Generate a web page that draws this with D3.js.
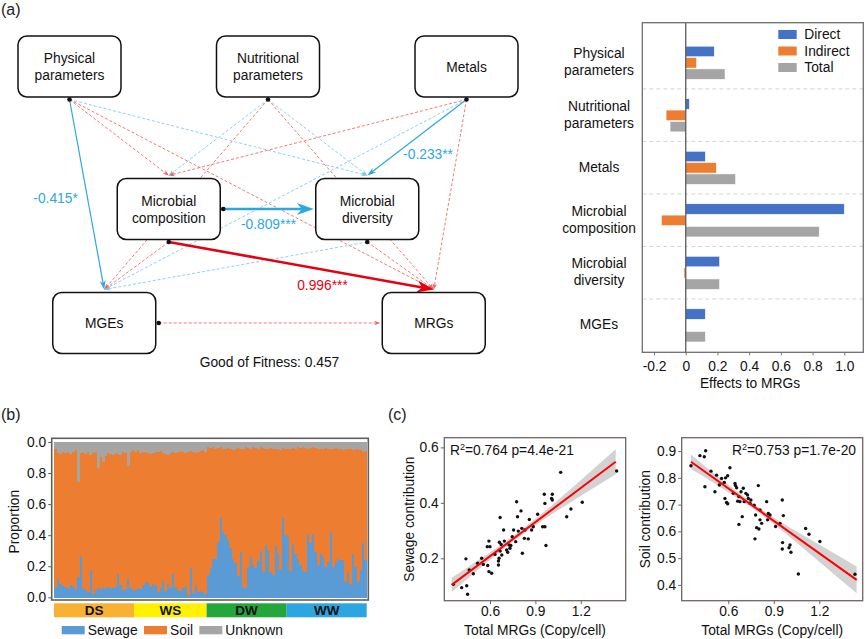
<!DOCTYPE html>
<html>
<head>
<meta charset="utf-8">
<script src="https://cdn.jsdelivr.net/npm/d3@7"></script>
<style>
  body { margin: 0; background: #fff; }
  svg { display: block; }
</style>
</head>
<body>
<svg id="fig" width="865" height="639"></svg>
<script>
// ---------- (a) path model ----------
const pathNodes = ["Physical parameters", "Nutritional parameters", "Metals",
  "Microbial composition", "Microbial diversity", "MGEs", "MRGs"];
// sign: +1 positive (red), -1 negative (blue); coef null = not significant (dashed)
const pathEdges = [
  { from: "Physical parameters", to: "Microbial composition", sign: 1, coef: null },
  { from: "Physical parameters", to: "Microbial diversity", sign: -1, coef: null },
  { from: "Physical parameters", to: "MRGs", sign: 1, coef: null },
  { from: "Nutritional parameters", to: "Microbial composition", sign: -1, coef: null },
  { from: "Nutritional parameters", to: "Microbial diversity", sign: -1, coef: null },
  { from: "Nutritional parameters", to: "MGEs", sign: 1, coef: null },
  { from: "Nutritional parameters", to: "MRGs", sign: 1, coef: null },
  { from: "Metals", to: "Microbial composition", sign: 1, coef: null },
  { from: "Metals", to: "MGEs", sign: -1, coef: null },
  { from: "Metals", to: "MRGs", sign: 1, coef: null },
  { from: "Microbial composition", to: "MGEs", sign: 1, coef: null },
  { from: "Microbial diversity", to: "MGEs", sign: -1, coef: null },
  { from: "Microbial diversity", to: "MRGs", sign: 1, coef: null },
  { from: "MGEs", to: "MRGs", sign: 1, coef: null },
  { from: "Physical parameters", to: "MGEs", sign: -1, coef: -0.415, stars: "*" },
  { from: "Metals", to: "Microbial diversity", sign: -1, coef: -0.233, stars: "**" },
  { from: "Microbial composition", to: "Microbial diversity", sign: -1, coef: -0.809, stars: "***" },
  { from: "Microbial composition", to: "MRGs", sign: 1, coef: 0.996, stars: "***" }
];
const goodFit = 0.457;

// ---------- (a) effects to MRGs ----------
const effectVars = ["Physical parameters", "Nutritional parameters", "Metals",
  "Microbial composition", "Microbial diversity", "MGEs"];
const effectTypes = ["Direct", "Indirect", "Total"];
const directEffect = [0.18, 0.023, 0.124, 1.0, 0.214, 0.124];
const indirectEffect = [0.069, -0.124, 0.193, -0.154, -0.011, 0];
const totalEffect = [0.248, -0.099, 0.315, 0.842, 0.214, 0.124];
const effectTicks = [-0.2, 0, 0.2, 0.4, 0.6, 0.8, 1.0];

// ---------- (b) source proportions ----------
const seasons = ["DS", "WS", "DW", "WW"];
const seasonSize = [32, 29, 32, 32];
const sewageShare = [
  // DS
  0.06, 0.12, 0.09, 0.075, 0.07, 0.06, 0.08, 0.075, 0.055, 0.135, 0.27, 0.06, 0.05, 0.035, 0.175, 0.025,
  0.05, 0.06, 0.055, 0.065, 0.06, 0.07, 0.06, 0.065, 0.07, 0.155, 0.08, 0.05, 0.055, 0.12, 0.06, 0.05,
  // WS
  0.05, 0.06, 0.055, 0.08, 0.1, 0.095, 0.07, 0.085, 0.08, 0.035, 0.06, 0.11, 0.04, 0.09, 0.065,
  0.15, 0.07, 0.05, 0.04, 0.065, 0.07, 0.01, 0.19, 0.03, 0.08, 0.035, 0.045, 0.035, 0.02,
  // DW
  0.145, 0.19, 0.25, 0.25, 0.36, 0.51, 0.42, 0.40, 0.37, 0.32, 0.25, 0.22, 0.14, 0.295, 0.07, 0.06,
  0.20, 0.26, 0.21, 0.19, 0.235, 0.30, 0.165, 0.34, 0.305, 0.165, 0.145, 0.335, 0.29, 0.175, 0.51, 0.40,
  // WW
  0.39, 0.17, 0.34, 0.28, 0.25, 0.21, 0.17, 0.165, 0.40, 0.35, 0.41, 0.295, 0.21, 0.28, 0.26, 0.20,
  0.23, 0.42, 0.20, 0.23, 0.25, 0.24, 0.24, 0.10, 0.165, 0.09, 0.28, 0.20, 0.10, 0.175, 0.35, 0.24
];
const unknownShare = [
  // DS
  0.045, 0.07, 0.075, 0.065, 0.07, 0.06, 0.075, 0.065, 0.05, 0.255, 0.07, 0.065, 0.075, 0.06, 0.08, 0.07,
  0.065, 0.165, 0.095, 0.13, 0.085, 0.07, 0.075, 0.08, 0.07, 0.075, 0.08, 0.065, 0.07, 0.15, 0.065, 0.05,
  // WS
  0.06, 0.05, 0.07, 0.065, 0.06, 0.07, 0.075, 0.07, 0.065, 0.06, 0.055, 0.07, 0.075, 0.08, 0.07,
  0.065, 0.07, 0.06, 0.055, 0.065, 0.07, 0.06, 0.055, 0.065, 0.07, 0.06, 0.055, 0.05, 0.06,
  // DW
  0.03, 0.035, 0.03, 0.04, 0.035, 0.03, 0.045, 0.04, 0.035, 0.04, 0.05, 0.04, 0.035, 0.045, 0.04, 0.03,
  0.035, 0.04, 0.03, 0.035, 0.04, 0.03, 0.035, 0.04, 0.045, 0.035, 0.04, 0.045, 0.04, 0.05, 0.035, 0.04,
  // WW
  0.045, 0.04, 0.035, 0.04, 0.03, 0.035, 0.03, 0.035, 0.04, 0.035, 0.03, 0.035, 0.04, 0.045, 0.04, 0.035,
  0.04, 0.045, 0.04, 0.035, 0.04, 0.045, 0.05, 0.045, 0.04, 0.045, 0.05, 0.04, 0.045, 0.05, 0.06, 0.055
];
const propTicks = [0, 0.2, 0.4, 0.6, 0.8, 1.0];
const propTickLabels = ["0.0", "0.2", "0.4", "0.6", "0.8", "0.0"];

// ---------- (c) regressions ----------
const sewageMRG = [0.358, 0.413, 0.446, 0.452, 0.441, 0.463, 0.49, 0.518, 0.545, 0.556, 0.582, 0.593, 0.585,
  0.593, 0.611, 0.6, 0.633, 0.656, 0.667, 0.662, 0.674, 0.667, 0.678, 0.69, 0.695, 0.66, 0.656, 0.71, 0.717,
  0.726, 0.732, 0.738, 0.747, 0.756, 0.776, 0.782, 0.77, 0.787, 0.805, 0.81, 0.814, 0.827, 0.831, 0.853,
  0.86, 0.875, 0.886, 0.915, 0.948, 0.959, 0.963, 0.97, 0.963, 1.007, 1.012, 1.012, 1.067, 1.107, 1.135,
  1.21, 1.437];
const sewageContrib = [0.106, 0.094, 0.101, 0.07, 0.198, 0.158, 0.144, 0.182, 0.2, 0.178, 0.242, 0.262, 0.174,
  0.152, 0.146, 0.242, 0.214, 0.176, 0.347, 0.258, 0.25, 0.226, 0.212, 0.302, 0.262, 0.2, 0.19, 0.23, 0.222,
  0.248, 0.236, 0.246, 0.278, 0.302, 0.404, 0.35, 0.26, 0.298, 0.371, 0.308, 0.218, 0.272, 0.302, 0.27,
  0.34, 0.302, 0.314, 0.359, 0.314, 0.431, 0.398, 0.246, 0.314, 0.416, 0.431, 0.41, 0.51, 0.35, 0.378,
  0.402, 0.515];
const soilMRG = [0.354, 0.413, 0.451, 0.442, 0.446, 0.486, 0.512, 0.523, 0.541, 0.556, 0.574, 0.582, 0.596,
  0.611, 0.578, 0.589, 0.596, 0.633, 0.644, 0.655, 0.648, 0.662, 0.67, 0.677, 0.684, 0.699, 0.692, 0.67,
  0.705, 0.716, 0.727, 0.732, 0.743, 0.749, 0.771, 0.78, 0.787, 0.776, 0.802, 0.798, 0.809, 0.809, 0.82,
  0.853, 0.859, 0.864, 0.875, 0.912, 0.941, 0.956, 0.963, 0.958, 0.956, 1.007, 1.013, 1.0, 1.062, 1.11,
  1.132, 1.204, 1.435];
const soilContrib = [0.845, 0.883, 0.901, 0.879, 0.767, 0.825, 0.748, 0.81, 0.773, 0.798, 0.783, 0.8, 0.808,
  0.838, 0.723, 0.708, 0.703, 0.742, 0.779, 0.763, 0.771, 0.713, 0.73, 0.711, 0.748, 0.761, 0.655, 0.626,
  0.711, 0.742, 0.736, 0.723, 0.705, 0.717, 0.698, 0.661, 0.614, 0.572, 0.609, 0.771, 0.68, 0.643, 0.63,
  0.711, 0.643, 0.667, 0.661, 0.618, 0.63, 0.717, 0.659, 0.558, 0.534, 0.549, 0.522, 0.539, 0.441, 0.611,
  0.589, 0.562, 0.44];
// fitted line ends and confidence band half-widths
const sewageFitX = [0.347, 1.431], sewageFitY = [0.104, 0.548];
const sewageBandX = [0.347, 0.5, 0.65, 0.78, 0.95, 1.1, 1.25, 1.431];
const sewageBandHalf = [0.026, 0.018, 0.012, 0.01, 0.013, 0.022, 0.032, 0.045];
const soilFitX = [0.354, 1.446], soilFitY = [0.86, 0.419];
const soilBandX = [0.354, 0.5, 0.65, 0.78, 0.95, 1.1, 1.25, 1.446];
const soilBandHalf = [0.027, 0.018, 0.012, 0.01, 0.014, 0.025, 0.036, 0.05];
const sewageStats = ["0.764", "4.4e-21"];
const soilStats = ["0.753", "1.7e-20"];

// ================= drawing =================
const FONT = "'Liberation Sans', Arial, Helvetica, sans-serif";
const FS = 13.8;
const RED = "#e60012", BLUE = "#2ea7e0";
// plain hyphen for negatives, like the original
const loc = d3.formatLocale({ decimal: ".", thousands: ",", grouping: [3], currency: ["", ""], minus: "-" });
const fmt1 = loc.format(".1f");
const fmt3 = loc.format(".3f");

const svg = d3.select("#fig").attr("font-family", FONT);
const defs = svg.append("defs");

function panelLabel(txt, x, y) {
  svg.append("text").attr("x", x).attr("y", y).attr("font-size", 16).attr("fill", "#222").text(txt);
}
panelLabel("(a)", 1, 15);
panelLabel("(b)", 1, 420);
panelLabel("(c)", 388, 420);

// ---------- path model ----------
function addMarker(id, color, L, W) {
  defs.append("marker")
    .attr("id", id)
    .attr("markerUnits", "userSpaceOnUse")
    .attr("markerWidth", 1).attr("markerHeight", 1)
    .attr("refX", 0).attr("refY", 0)
    .attr("orient", "auto")
    .attr("overflow", "visible")
    .append("path")
    .attr("d", `M${0.6 * L},0L${-0.4 * L},${-W / 2}L${-0.1 * L},0L${-0.4 * L},${W / 2}Z`)
    .attr("fill", color);
}

const grid = {
  "Physical parameters": [0, 0], "Nutritional parameters": [2, 0], "Metals": [4, 0],
  "Microbial composition": [1, 1], "Microbial diversity": [3, 1],
  "MGEs": [0.35, 1.8], "MRGs": [3.67, 1.8]
};
const gx = d3.scaleLinear().domain([0, 4]).range([69.5, 466.5]);
const gy = d3.scaleLinear().domain([0, 1]).range([66.5, 209]);
const boxW = 103, boxH = 61;
const center = n => [gx(grid[n][0]), gy(grid[n][1])];

function anchor(n, side) {
  const [x, y] = center(n);
  if (side === "top") return [x, y - boxH / 2 - 3];
  if (side === "bottom") return [x, y + boxH / 2 + 2.5];
  if (side === "right") return [x + boxW / 2 + 3, y];
  return [x - boxW / 2 - 2, y];
}

const net = svg.append("g");
const srcDots = new Map();

pathEdges.forEach((e, i) => {
  const horizontal = grid[e.from][1] === grid[e.to][1];
  const p0 = anchor(e.from, horizontal ? "right" : "bottom");
  const p1 = anchor(e.to, horizontal ? "left" : "top");
  srcDots.set(p0.join(","), p0);

  const sig = e.coef !== null;
  const thick = sig && Math.abs(e.coef) > 0.5;
  const color = sig ? (e.sign > 0 ? RED : BLUE) : (e.sign > 0 ? "#f2605e" : "#7ac8ee");
  const L = thick ? 17 : sig ? 9 : 6;
  const Wd = thick ? 12 : sig ? 6 : 4.5;
  const id = "arr" + i;
  addMarker(id, color, L, Wd);

  const dx = p1[0] - p0[0], dy = p1[1] - p0[1];
  const len = Math.hypot(dx, dy);
  const back = 0.6 * L;
  const end = [p1[0] - dx / len * back, p1[1] - dy / len * back];

  net.append("path")
    .attr("d", d3.line()([p0, end]))
    .attr("stroke", color)
    .attr("stroke-width", thick ? 2.6 : sig ? 1.2 : 0.85)
    .attr("stroke-dasharray", sig ? null : "3,2")
    .attr("fill", "none")
    .attr("marker-end", `url(#${id})`);

  if (sig) {
    e._p0 = p0; e._p1 = p1;
  }
});

// boxes
const boxes = net.selectAll("g.node")
  .data(pathNodes)
  .join("g")
  .attr("transform", d => `translate(${center(d)[0]},${center(d)[1]})`);
boxes.append("rect")
  .attr("x", -boxW / 2).attr("y", -boxH / 2)
  .attr("width", boxW).attr("height", boxH)
  .attr("rx", 9)
  .attr("fill", "#fff").attr("stroke", "#111").attr("stroke-width", 1.5);
boxes.each(function (d) {
  const words = d.split(" ");
  const lines = words.length > 1 ? words : [d];
  const t = d3.select(this).append("text")
    .attr("text-anchor", "middle").attr("font-size", FS).attr("fill", "#111");
  lines.forEach((w, k) => {
    t.append("tspan").attr("x", 0)
      .attr("y", 5 + (k - (lines.length - 1) / 2) * 17)
      .text(w);
  });
});

// source dots
net.selectAll("circle.src")
  .data(Array.from(srcDots.values()))
  .join("circle")
  .attr("cx", d => d[0]).attr("cy", d => d[1]).attr("r", 2.3).attr("fill", "#111");

// coefficient labels (placed along the edge)
const labelPlace = [
  { t: 0.52, dx: -32, dy: 5 },
  { t: 0.72, dx: 33, dy: 5 },
  { t: 0.5, dx: 0, dy: 20 },
  { t: 0.58, dx: 0, dy: 20.5 }
];
pathEdges.filter(e => e.coef !== null).forEach((e, k) => {
  const pl = labelPlace[k];
  const x = e._p0[0] + (e._p1[0] - e._p0[0]) * pl.t + pl.dx;
  const y = e._p0[1] + (e._p1[1] - e._p0[1]) * pl.t + pl.dy;
  net.append("text")
    .attr("x", x).attr("y", y)
    .attr("text-anchor", "middle")
    .attr("font-size", FS)
    .attr("fill", e.sign > 0 ? RED : BLUE)
    .text(fmt3(e.coef) + e.stars);
});

net.append("text")
  .attr("x", 269.5).attr("y", 367)
  .attr("text-anchor", "middle").attr("font-size", FS).attr("fill", "#111")
  .text("Good of Fitness: " + goodFit);

// ---------- effects bar chart ----------
const effRows = effectVars.map((v, i) => ({
  v, Direct: directEffect[i], Indirect: indirectEffect[i], Total: totalEffect[i]
}));
const effColor = d3.scaleOrdinal().domain(effectTypes).range(["#4472c4", "#ed7d31", "#a5a5a5"]);
const frameA = { x0: 642.3, x1: 863.3, y0: 22.7, y1: 352.3 };
const ex = d3.scaleLinear().domain([-0.274, 1.12]).range([frameA.x0, frameA.x1]);
const ey = d3.scaleBand().domain(effectVars).range([36.4, 351.5]);
const ei = d3.scaleBand().domain(effectTypes).range([9.8, 43]).paddingInner(0.07);

const eff = svg.append("g");
// separators
eff.selectAll("line.sep")
  .data(effectVars.slice(1))
  .join("line")
  .attr("x1", frameA.x0).attr("x2", frameA.x1)
  .attr("y1", d => ey(d)).attr("y2", d => ey(d))
  .attr("stroke", "#d4d4d4").attr("stroke-width", 1).attr("stroke-dasharray", "4,3");

const effG = eff.selectAll("g.grp")
  .data(effRows)
  .join("g")
  .attr("transform", d => `translate(0,${ey(d.v)})`);
effG.selectAll("rect")
  .data(d => effectTypes.map(t => ({ t, val: d[t] })))
  .join("rect")
  .attr("x", d => ex(Math.min(0, d.val)))
  .attr("width", d => Math.abs(ex(d.val) - ex(0)))
  .attr("y", d => ei(d.t))
  .attr("height", ei.bandwidth())
  .attr("fill", d => effColor(d.t))
  .attr("stroke", "#fff").attr("stroke-width", 0.6);

// zero line + frame
eff.append("line")
  .attr("x1", ex(0)).attr("x2", ex(0))
  .attr("y1", frameA.y0).attr("y2", frameA.y1)
  .attr("stroke", "#5a5a5a").attr("stroke-width", 1.3);
eff.append("rect")
  .attr("x", frameA.x0).attr("y", frameA.y0)
  .attr("width", frameA.x1 - frameA.x0).attr("height", frameA.y1 - frameA.y0)
  .attr("fill", "none").attr("stroke", "#6e6e6e").attr("stroke-width", 1.3);

const effAxis = eff.append("g")
  .attr("transform", `translate(0,${frameA.y1})`)
  .call(d3.axisBottom(ex).tickValues(effectTicks)
    .tickFormat(d => d === 0 ? "0" : fmt1(d))
    .tickSize(3).tickPadding(6));
effAxis.attr("font-family", FONT).attr("font-size", FS);
effAxis.select(".domain").remove();
effAxis.selectAll(".tick line").attr("stroke", "#6e6e6e");
effAxis.selectAll(".tick text").attr("fill", "#111");

eff.append("text")
  .attr("x", 750).attr("y", 388)
  .attr("text-anchor", "middle").attr("font-size", FS).attr("fill", "#111")
  .text("Effects to MRGs");

// category labels
effectVars.forEach(v => {
  const words = v.split(" ");
  const cy = ey(v) + ey.bandwidth() / 2 - 1;
  const t = eff.append("text").attr("text-anchor", "middle").attr("font-size", FS).attr("fill", "#111");
  words.forEach((w, k) => {
    t.append("tspan").attr("x", 599)
      .attr("y", cy + 5 + (k - (words.length - 1) / 2) * 16.7)
      .text(w);
  });
});

// legend
const effLeg = eff.selectAll("g.leg")
  .data(effectTypes)
  .join("g")
  .attr("transform", (d, i) => `translate(778.3,${30 + i * 16.5})`);
effLeg.append("rect").attr("width", 18.4).attr("height", 9).attr("fill", d => effColor(d));
effLeg.append("text").attr("x", 26).attr("y", 9.2).attr("font-size", FS).attr("fill", "#111").text(d => d);

// ---------- (b) stacked proportions ----------
const barRows = sewageShare.map((s, i) => ({
  i, Sewage: s, Unknown: unknownShare[i], Soil: 1 - s - unknownShare[i]
}));
const srcKeys = ["Sewage", "Soil", "Unknown"];
const srcColor = d3.scaleOrdinal().domain(srcKeys).range(["#5b9bd5", "#ed7d31", "#a5a5a5"]);
const stacked = d3.stack().keys(srcKeys)(barRows);
const bx = d3.scaleBand().domain(d3.range(barRows.length)).range([54, 366.7]);
const by = d3.scaleLinear().domain([0, 1]).range([597.3, 442]);

const pb = svg.append("g");
pb.selectAll("g.layer")
  .data(stacked)
  .join("g")
  .attr("fill", d => srcColor(d.key))
  .attr("shape-rendering", "crispEdges")
  .selectAll("rect")
  .data(d => d)
  .join("rect")
  .attr("x", d => bx(d.data.i))
  .attr("width", bx.bandwidth() + 0.6)
  .attr("y", d => by(d[1]))
  .attr("height", d => by(d[0]) - by(d[1]) + 0.3);

pb.append("rect")
  .attr("x", 51.7).attr("y", 438.3).attr("width", 316.6).attr("height", 161.7)
  .attr("fill", "none").attr("stroke", "#5f5f5f").attr("stroke-width", 1.6);

const pbAxis = pb.append("g")
  .attr("transform", "translate(51.7,0)")
  .call(d3.axisLeft(by).tickValues(propTicks)
    .tickFormat((d, i) => propTickLabels[i]).tickSize(3.5).tickPadding(2));
pbAxis.attr("font-family", FONT).attr("font-size", FS);
pbAxis.select(".domain").remove();
pbAxis.selectAll(".tick line").attr("stroke", "#5f5f5f");
pbAxis.selectAll(".tick text").attr("fill", "#111");

pb.append("text")
  .attr("transform", "translate(19,521.7) rotate(-90)")
  .attr("text-anchor", "middle").attr("font-size", FS).attr("fill", "#111")
  .text("Proportion");

// season strip
const seasonColor = d3.scaleOrdinal().domain(seasons).range(["#f8b133", "#fff100", "#24a73a", "#2ca6e0"]);
let start = 0;
const seasonSpans = seasons.map((s, k) => {
  const span = { s, a: start, b: start + seasonSize[k] - 1 };
  start += seasonSize[k];
  return span;
});
const strip = pb.selectAll("g.season")
  .data(seasonSpans)
  .join("g");
strip.append("rect")
  .attr("x", d => bx(d.a))
  .attr("width", d => bx(d.b) + bx.bandwidth() - bx(d.a))
  .attr("y", 603.3).attr("height", 14)
  .attr("fill", d => seasonColor(d.s));
strip.append("text")
  .attr("x", d => (bx(d.a) + bx(d.b) + bx.bandwidth()) / 2)
  .attr("y", 615)
  .attr("text-anchor", "middle").attr("font-size", 13.5).attr("font-weight", "bold").attr("fill", "#111")
  .text(d => d.s);

const pbLegX = [61.7, 144, 199.3];
const pbLeg = pb.selectAll("g.leg")
  .data(srcKeys)
  .join("g")
  .attr("transform", (d, i) => `translate(${pbLegX[i]},626)`);
pbLeg.append("rect").attr("width", 23).attr("height", 8.3).attr("fill", d => srcColor(d));
pbLeg.append("text").attr("x", 26).attr("y", 9.3).attr("font-size", FS).attr("fill", "#111").text(d => d);

// ---------- (c) scatter + fit ----------
function scatter(opt) {
  const g = svg.append("g");
  const x = d3.scaleLinear().domain(opt.xDomain).range([opt.x0, opt.x1]);
  const y = d3.scaleLinear().domain(opt.yDomain).range([opt.y1, opt.y0]);
  const fit = d3.scaleLinear().domain(opt.fitX).range(opt.fitY);

  const band = opt.bandX.map((v, i) => ({ v, lo: fit(v) - opt.bandHalf[i], hi: fit(v) + opt.bandHalf[i] }));
  g.append("path")
    .datum(band)
    .attr("d", d3.area().curve(d3.curveMonotoneX)
      .x(d => x(d.v)).y0(d => y(d.lo)).y1(d => y(d.hi)))
    .attr("fill", "#d2d2d2");

  g.selectAll("circle")
    .data(opt.xs.map((v, i) => [v, opt.ys[i]]))
    .join("circle")
    .attr("cx", d => x(d[0])).attr("cy", d => y(d[1]))
    .attr("r", 1.7).attr("fill", "#111");

  g.append("path")
    .attr("d", d3.line()(opt.fitX.map(v => [x(v), y(fit(v))])))
    .attr("stroke", "#ff0000").attr("stroke-width", 2).attr("fill", "none");

  g.append("rect")
    .attr("x", opt.x0).attr("y", opt.y0)
    .attr("width", opt.x1 - opt.x0).attr("height", opt.y1 - opt.y0)
    .attr("fill", "none").attr("stroke", "#6f6464").attr("stroke-width", 1.3);

  const ax = g.append("g").attr("transform", `translate(0,${opt.y1})`)
    .call(d3.axisBottom(x).tickValues([0.6, 0.9, 1.2]).tickFormat(fmt1).tickSize(3.5).tickPadding(2.5));
  const ay = g.append("g").attr("transform", `translate(${opt.x0},0)`)
    .call(d3.axisLeft(y).tickValues(opt.yTicks).tickFormat(fmt1).tickSize(3.5).tickPadding(2));
  [ax, ay].forEach(a => {
    a.attr("font-family", FONT).attr("font-size", FS);
    a.select(".domain").remove();
    a.selectAll(".tick line").attr("stroke", "#6f6464");
    a.selectAll(".tick text").attr("fill", "#111");
  });

  g.append("text")
    .attr("x", (opt.x0 + opt.x1) / 2).attr("y", 635)
    .attr("text-anchor", "middle").attr("font-size", FS).attr("fill", "#111")
    .text("Total MRGs (Copy/cell)");
  g.append("text")
    .attr("transform", `translate(${opt.yLabelX},${(opt.y0 + opt.y1) / 2}) rotate(-90)`)
    .attr("text-anchor", "middle").attr("font-size", FS).attr("fill", "#111")
    .text(opt.yLabel);

  const st = g.append("text")
    .attr("x", opt.statX).attr("y", 455)
    .attr("text-anchor", opt.statAnchor).attr("font-size", FS).attr("fill", "#111");
  st.append("tspan").text("R");
  st.append("tspan").attr("dy", -5).attr("font-size", 9).text("2");
  st.append("tspan").attr("dy", 5).text(`=${opt.stats[0]} p=${opt.stats[1]}`);
}

scatter({
  x0: 444.3, x1: 625.7, y0: 437.7, y1: 600.7,
  xDomain: [0.298, 1.497], yDomain: [0.047, 0.635],
  xs: sewageMRG, ys: sewageContrib,
  fitX: sewageFitX, fitY: sewageFitY, bandX: sewageBandX, bandHalf: sewageBandHalf,
  yTicks: [0.2, 0.4, 0.6], yLabel: "Sewage contribution", yLabelX: 414,
  stats: sewageStats, statX: 450, statAnchor: "start"
});
scatter({
  x0: 681.7, x1: 862.7, y0: 437.7, y1: 600.7,
  xDomain: [0.293, 1.486], yDomain: [0.341, 0.95],
  xs: soilMRG, ys: soilContrib,
  fitX: soilFitX, fitY: soilFitY, bandX: soilBandX, bandHalf: soilBandHalf,
  yTicks: [0.4, 0.5, 0.6, 0.7, 0.8, 0.9], yLabel: "Soil contribution", yLabelX: 650,
  stats: soilStats, statX: 856, statAnchor: "end"
});
</script>
</body>
</html>
